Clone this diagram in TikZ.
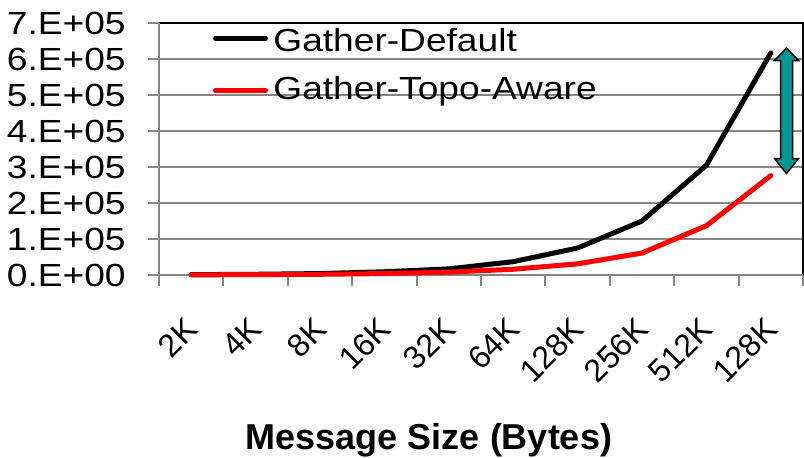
\documentclass[tikz,border=0pt]{standalone}
\usepackage{fontspec}
\setmainfont{Liberation Sans}
\definecolor{gridgray}{RGB}{134,134,134}
\definecolor{arrowteal}{RGB}{0,150,150}

\begin{document}
\begin{tikzpicture}[x=0.5pt,y=-0.5pt,
  lbl/.style={inner sep=0pt,font=\fontsize{16}{19}\selectfont},
  serie/.style={line width=2.5pt,line cap=round,line join=round}]
\useasboundingbox (0,0) rectangle (804,457);
\foreach \k in {1,...,7}
  \draw [gridgray, line width=0.75pt] (148,275-36*\k) -- (803,275-36*\k);
\draw [black, line width=0.6pt] (159,23) -- (803,23) -- (803,275);
\draw [gridgray, line width=1pt] (159,23) -- (159,286);
\draw [gridgray, line width=1pt] (148,275) -- (803,275);
\foreach \t in {1,...,10}
  \draw [gridgray, line width=1pt] (159+64.4*\t,275) -- (159+64.4*\t,286);
\foreach \v [count=\i from 0] in {0.E+00,1.E+05,2.E+05,3.E+05,4.E+05,5.E+05,6.E+05,7.E+05}
  \node [lbl, anchor=east] (yl\i) at (126,275-36*\i) {\scalebox{1.16}[1]{\v}};
\foreach \lab [count=\i from 0] in {2K,4K,8K,16K,32K,64K,128K,256K,512K,128K}
  \node [lbl, rotate=45, anchor=north east] (xl\i) at (183.7+64.4*\i,315) {\lab};
\node [inner sep=0pt, anchor=base, font=\fontsize{18}{22}\selectfont\bfseries] (xtitle) at (429,449) {Message Size (Bytes)};
\begin{scope}[shift={(191.2,275)}, x=32.2pt, y=0.18pt]
\draw [serie, black] plot coordinates {(0,1) (1,2) (2,4) (3,9) (4,17) (5,37) (6,75) (7,150) (8,305) (9,617)};
\draw [serie, red] plot coordinates {(0,0.5) (1,1) (2,2) (3,4) (4,8) (5,16) (6,31) (7,61) (8,137) (9,276)};
\end{scope}
\draw [serie, black] (215.5,38.3) -- (265.5,38.3);
\draw [serie, red] (215.5,90.7) -- (265.5,90.7);
\node [lbl, anchor=base west] (leg1) at (273,51) {\scalebox{1.16}[1]{Gather-Default}};
\node [lbl, anchor=base west] (leg2) at (273,99.3) {\scalebox{1.16}[1]{Gather-Topo-Aware}};
\draw [fill=arrowteal, draw=black, line width=0.75pt] (786.5,48) -- (798.5,60.5) -- (792.5,60.5) -- (792.5,158.5) -- (798.5,158.5) -- (786.5,173.5) -- (774.5,158.5) -- (780.5,158.5) -- (780.5,60.5) -- (774.5,60.5) -- cycle;
\end{tikzpicture}
\end{document}
